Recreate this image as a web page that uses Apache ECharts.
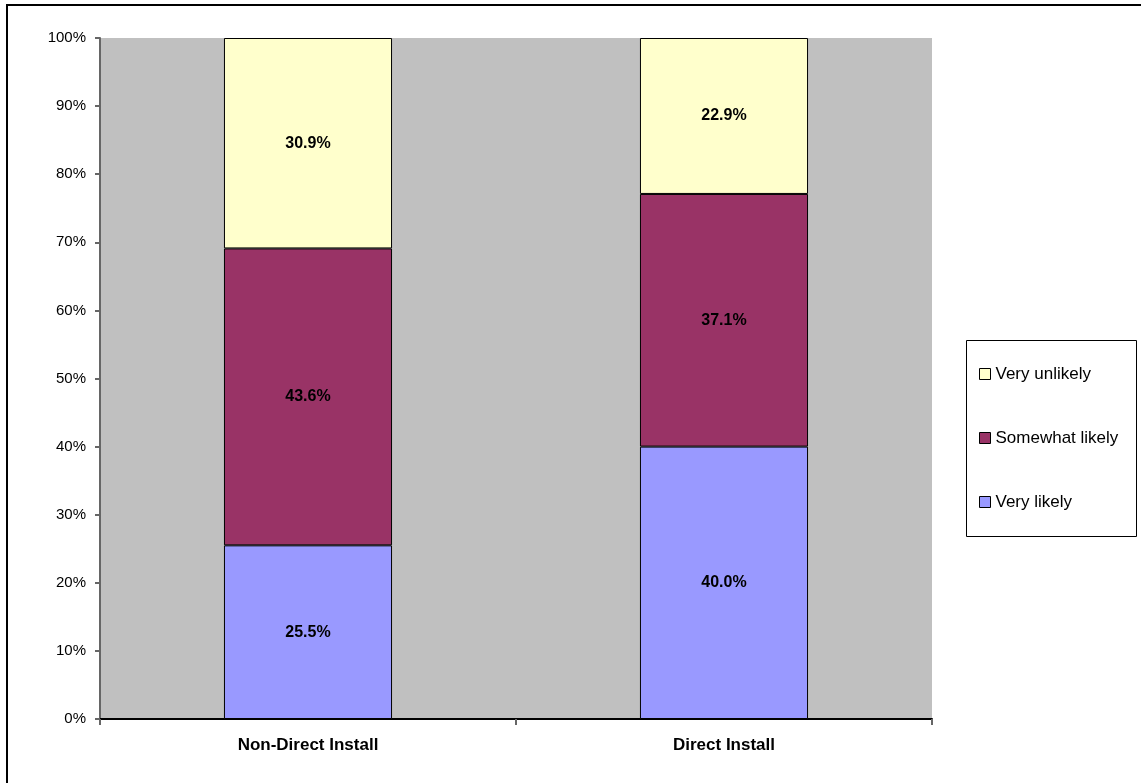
<!DOCTYPE html>
<html>
<head>
<meta charset="utf-8">
<script src="https://cdn.jsdelivr.net/npm/echarts@6/dist/echarts.min.js"></script>
<style>html,body{margin:0;padding:0;background:#fff;}#c{width:1141px;height:783px;}</style>
</head>
<body>
<div id="c"></div>
<script>
const categories = ['Non-Direct Install', 'Direct Install'];
const veryLikely = [25.5, 40.0];
const somewhatLikely = [43.6, 37.1];
const veryUnlikely = [30.9, 22.9];
const yTicks = [0, 10, 20, 30, 40, 50, 60, 70, 80, 90, 100];

const chart = echarts.init(document.getElementById('c'));
const font = 'Liberation Sans, Arial, sans-serif';
const lbl = {show: true, position: 'inside', color: '#000', fontWeight: 'bold', fontSize: 16, fontFamily: font, formatter: p => p.value.toFixed(1) + '%'};
const item = c => ({color: c, borderColor: '#000', borderWidth: 1});
chart.setOption({
  animation: false,
  graphic: [
    {type: 'rect', shape: {x: 7, y: 5, width: 1300, height: 900}, style: {fill: 'none', stroke: '#000', lineWidth: 2}, z: 100},
    {type: 'rect', shape: {x: 966.5, y: 340.5, width: 170, height: 196}, style: {fill: '#fff', stroke: '#000', lineWidth: 1}, z: 0}
  ],
  grid: {left: 100, right: 209, top: 38, bottom: 64, show: true, backgroundColor: '#C0C0C0', borderWidth: 0},
  legend: {
    orient: 'vertical', left: 967, top: 341,
    padding: [23, 10, 10, 12], itemGap: 44,
    itemWidth: 11, itemHeight: 11, itemGap: 44, itemTextGap: 8,
    icon: 'rect',
    textStyle: {fontFamily: font, fontSize: 17, color: '#000', lineHeight: 20},
    data: [
      {name: 'Very unlikely', itemStyle: {borderColor: '#000', borderWidth: 1}},
      {name: 'Somewhat likely', itemStyle: {borderColor: '#000', borderWidth: 1}},
      {name: 'Very likely', itemStyle: {borderColor: '#000', borderWidth: 1}}
    ]
  },
  xAxis: {
    type: 'category', data: categories,
    axisLine: {lineStyle: {color: '#000', width: 2}},
    axisTick: {show: true, length: 6, lineStyle: {color: '#666', width: 2}},
    axisLabel: {color: '#000', fontWeight: 'bold', fontSize: 17, fontFamily: font, margin: 18}
  },
  yAxis: {
    type: 'value', min: 0, max: 100, interval: 10,
    axisLine: {show: true, lineStyle: {color: '#666', width: 2}},
    axisTick: {show: true, length: 5, lineStyle: {color: '#666', width: 2}},
    splitLine: {show: false},
    axisLabel: {color: '#000', fontSize: 15, fontFamily: font, margin: 14, formatter: v => yTicks.includes(v) ? v + '%' : ''}
  },
  series: [
    {name: 'Very likely', type: 'bar', stack: 's', data: veryLikely, barWidth: '40.4%', itemStyle: item('#9999FF'), label: lbl},
    {name: 'Somewhat likely', type: 'bar', stack: 's', data: somewhatLikely, itemStyle: item('#993366'), label: lbl},
    {name: 'Very unlikely', type: 'bar', stack: 's', data: veryUnlikely, itemStyle: item('#FFFFCC'), label: lbl}
  ]
});
</script>
</body>
</html>
